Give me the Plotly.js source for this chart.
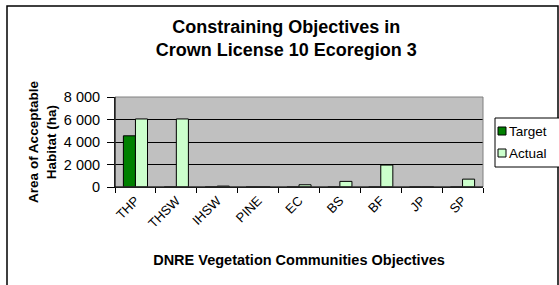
<!DOCTYPE html>
<html><head><meta charset="utf-8">
<script src="https://cdn.plot.ly/plotly-3.0.1.min.js"></script>
<style>html,body{margin:0;padding:0;background:#fff;}#chart{width:559px;height:285px;}</style>
</head><body><div id="chart"></div>
<script>
var categories = ["THP","THSW","IHSW","PINE","EC","BS","BF","JP","SP"];
var targetValues = [4550, 0, 0, 0, 0, 0, 0, 0, 0];
var actualValues = [6050, 6050, 80, 0, 200, 500, 1950, 0, 700];
var seriesNames = ["Target", "Actual"];
var seriesColors = ["#008000", "#ccffcc"];
var yTicks = [0, 2000, 4000, 6000, 8000];

var W = 559, H = 285, L = 115, R = 76, T = 97, B = 98;
var pw = W - L - R, ph = H - T - B;
function px(x){ return (x - L) / pw; }
function py(y){ return (H - B - y) / ph; }

var traces = [
  {type:"bar", name:seriesNames[0], x:categories, y:targetValues, showlegend:false,
   marker:{color:seriesColors[0], line:{color:"#000", width:1}}},
  {type:"bar", name:seriesNames[1], x:categories, y:actualValues, showlegend:false,
   marker:{color:seriesColors[1], line:{color:"#000", width:1}}}
];

var shapes = [
  {type:"rect", xref:"paper", yref:"paper", x0:0, x1:1, y0:0, y1:1,
   line:{color:"#808080", width:1}, fillcolor:"rgba(0,0,0,0)", layer:"above"},
  {type:"line", xref:"paper", yref:"paper", x0:0, x1:0, y0:0, y1:1,
   line:{color:"#000", width:1}, layer:"above"},
  {type:"line", xref:"paper", yref:"paper", x0:0, x1:1, y0:0, y1:0,
   line:{color:"#000", width:1}, layer:"above"},
  {type:"rect", xref:"paper", yref:"paper", x0:px(7), x1:px(558), y0:py(290), y1:py(6),
   line:{color:"#000", width:1.5}, fillcolor:"rgba(0,0,0,0)", layer:"below"},
  // legend box
  {type:"rect", xref:"paper", yref:"paper", x0:px(495), x1:px(562), y0:py(167), y1:py(118),
   line:{color:"#000", width:1}, fillcolor:"#fff", layer:"above"}
];
var annotations = [];
seriesNames.forEach(function(n, i){
  var cy = 131 + i*22;
  shapes.push({type:"rect", xref:"paper", yref:"paper", x0:px(498), x1:px(506),
    y0:py(cy+4), y1:py(cy-4), line:{color:"#000", width:1}, fillcolor:seriesColors[i], layer:"above"});
  annotations.push({xref:"paper", yref:"paper", x:px(507), y:py(cy), xanchor:"left", yanchor:"middle",
    text:n, showarrow:false, font:{size:13.5}});
});

var layout = {
  width:W, height:H, margin:{l:L, r:R, t:T, b:B, autoexpand:false},
  paper_bgcolor:"#fff", plot_bgcolor:"#c0c0c0",
  font:{family:"Arial, Liberation Sans, sans-serif", color:"#000", size:13},
  separators:". ",
  barmode:"group", bargap:0.41, bargroupgap:0,
  showlegend:false,
  title:{text:"<b>Constraining Objectives in<br>Crown License 10 Ecoregion 3</b>",
    font:{size:18, family:"Arial, Liberation Sans, sans-serif"},
    x:0.512, xanchor:"center", y:1-33/H, yanchor:"middle", yref:"container"},
  xaxis:{type:"category", showline:true, linecolor:"#000", linewidth:1,
    ticks:"outside", ticklen:5, tickcolor:"#000", tickson:"boundaries",
    tickangle:-45, tickfont:{size:13}, showgrid:false, fixedrange:true, automargin:false,
    title:{text:"<b>DNRE Vegetation Communities Objectives</b>", font:{size:14.5}, standoff:24}},
  yaxis:{range:[0,8000], tickvals:yTicks, separatethousands:true, tickformat:",d",
    showline:true, linecolor:"#000", linewidth:1, ticks:"outside", ticklen:7, tickcolor:"#000",
    showgrid:true, gridcolor:"#000", gridwidth:1, zeroline:false, tickfont:{size:14.5},
    ticklabelstandoff:4, automargin:false,
    title:{text:"<b>Area of Acceptable<br>Habitat (ha)</b>", font:{size:13.5}, standoff:4}},
  shapes:shapes,
  annotations:annotations
};
Plotly.newPlot("chart", traces, layout, {displayModeBar:false, staticPlot:true});
</script></body></html>
